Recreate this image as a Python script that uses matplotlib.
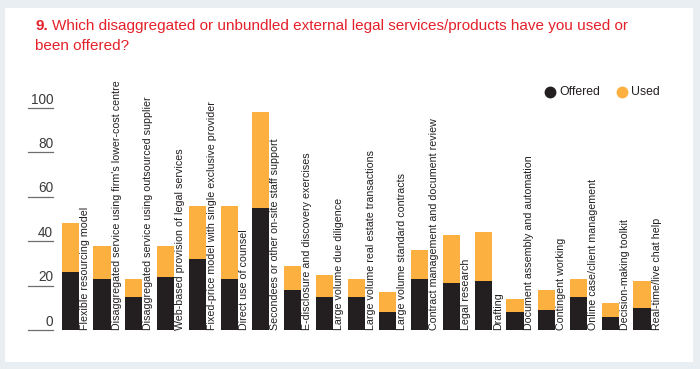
import matplotlib
matplotlib.use("Agg")
import matplotlib.pyplot as plt
import numpy as np

plt.rcParams["font.family"] = ["Liberation Sans", "DejaVu Sans"]

# --- data (percent of respondents) ---
services = [
    "Flexible resourcing model",
    "Disaggregated service using firm's lower-cost centre",
    "Disaggregated service using outsourced supplier",
    "Web-based provision of legal services",
    "Fixed-price model with single exclusive provider",
    "Direct use of counsel",
    "Secondees or other on-site staff support",
    "E-disclosure and discovery exercises",
    "Large volume due diligence",
    "Large volume real estate transactions",
    "Large volume standard contracts",
    "Contract management and document review",
    "Legal research",
    "Drafting",
    "Document assembly and automation",
    "Contingent working",
    "Online case/client management",
    "Decision-making toolkit",
    "Real-time/live chat help",
]
offered = [26, 23, 15, 24, 32, 23, 55, 18, 15, 15, 8, 23, 21, 22, 8, 9, 15, 6, 10]
total = [48, 38, 23, 38, 56, 56, 98, 29, 25, 23, 17, 36, 43, 44, 14, 18, 23, 12, 22]
used = [t - o for t, o in zip(total, offered)]
yticks = [0, 20, 40, 60, 80, 100]

BLACK = "#231f20"
ORANGE = "#fbb040"
RED = "#e4202a"
FRAME = "#e9eef3"

W, H = 700, 369
fig = plt.figure(figsize=(W / 100, H / 100), dpi=100, facecolor=FRAME)

# white panel
panel = plt.Rectangle((5 / W, (H - 362) / H), 688 / W, 354 / H,
                      transform=fig.transFigure, facecolor="white",
                      edgecolor="none", zorder=-10)
fig.patches.append(panel)

# axes: bar i centred at 70.3 + 31.76*i px, y=0 at 330 px, y=100 at 108 px
step = 31.76
x0 = 70.3
xlo, xhi = -0.5, 19.3
left_px = x0 + xlo * step
right_px = x0 + xhi * step
ax = fig.add_axes([left_px / W, (H - 330) / H, (right_px - left_px) / W, 222 / H])
ax.set_zorder(5)
ax.set_xlim(xlo, xhi)
ax.set_ylim(0, 100)
ax.axis("off")

x = np.arange(len(services))
bw = 0.54
ax.bar(x, offered, width=bw, color=BLACK, zorder=2)
ax.bar(x, used, width=bw, bottom=offered, color=ORANGE, zorder=2)

for xi, name in zip(x, services):
    ax.text(xi + bw / 2 + 0.03, 0, name, rotation=90, ha="left", va="bottom",
            fontsize=7.7, color=BLACK, clip_on=False)

# y labels with underline
ytr = ax.get_yaxis_transform()
lab_r = (53 - left_px) / (right_px - left_px)
lab_l = (28 - left_px) / (right_px - left_px)
for v in yticks:
    ax.plot([lab_l, lab_r], [v, v], transform=ytr, color="#6d6e71",
            lw=0.9, clip_on=False)
    ax.text(lab_r, v + 0.6, str(v), transform=ytr, ha="right", va="bottom",
            fontsize=9.8, color="#3a3a3c", clip_on=False)

# title: bold number then regular text
renderer = fig.canvas.get_renderer()
t_num = fig.text(35 / W, 1 - 30 / H, "9.", fontsize=11, fontweight="bold",
                 color=RED, va="baseline", ha="left")
bb = t_num.get_window_extent(renderer)
fig.text((bb.x1 + 4) / W, 1 - 30 / H,
         "Which disaggregated or unbundled external legal services/products have you used or",
         fontsize=11, color=RED, va="baseline", ha="left")
fig.text(35 / W, 1 - 50 / H, "been offered?", fontsize=11, color=RED,
         va="baseline", ha="left")

# legend
for cx, tx, col, lab in [(550, 559, BLACK, "Offered"), (622, 631, ORANGE, "Used")]:
    fig.lines.append(plt.Line2D([cx / W], [1 - 92 / H], marker="o", markersize=7.5,
                                color=col, transform=fig.transFigure))
    fig.text(tx / W, 1 - 92 / H, lab, fontsize=8.8, color=BLACK,
             va="center", ha="left")

fig.savefig("out.png", dpi=100, facecolor=FRAME)
